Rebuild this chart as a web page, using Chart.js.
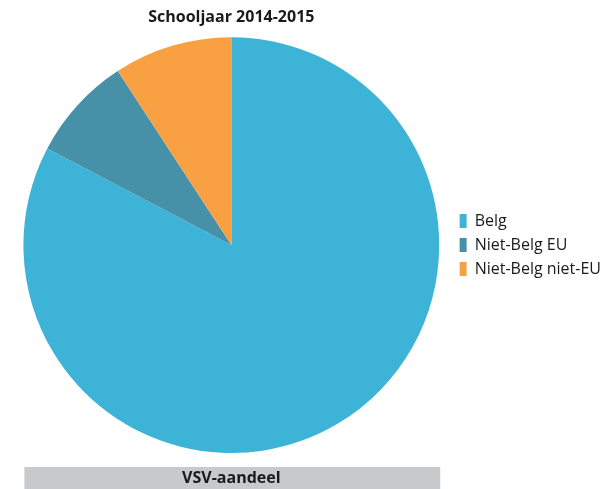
<!DOCTYPE html>
<html>
<head>
<meta charset="utf-8">
<script src="https://cdn.jsdelivr.net/npm/chart.js@4/dist/chart.umd.min.js"></script>
<style>
    html, body { margin: 0; padding: 0; background: #fff; }
    #wrap { width: 611px; height: 489px; }
</style>
</head>
<body>
<div id="wrap"><canvas id="chart" width="611" height="489"></canvas></div>
<script>
const categories = ['Belg', 'Niet-Belg EU', 'Niet-Belg niet-EU'];
const shares = [82.7, 8.1, 9.2];
const sliceColors = ['#3db3d7', '#4690a8', '#f8a042'];
const chartTitle = 'Schooljaar 2014-2015';
const footerText = 'VSV-aandeel';

const FONT = '"Open Sans", "Noto Sans", sans-serif';

// gray bar under the pie with the footer label
const footerBar = {
    id: 'footerBar',
    afterDraw(chart) {
        const arc = chart.getDatasetMeta(0).data[0];
        if (!arc) return;
        const ctx = chart.ctx;
        const left = arc.x - arc.outerRadius;
        const right = arc.x + arc.outerRadius;
        const top = chart.height - 22;
        ctx.save();
        ctx.fillStyle = '#c8c9cb';
        ctx.fillRect(left + 1, top, right - left, 22);
        ctx.fillStyle = '#1a1a1a';
        ctx.font = 'bold 16px ' + FONT;
        ctx.textAlign = 'center';
        ctx.textBaseline = 'middle';
        ctx.fillText(footerText, arc.x, top + 11);
        ctx.restore();
    }
};

new Chart(document.getElementById('chart'), {
    type: 'pie',
    data: {
        labels: categories,
        datasets: [{
            data: shares,
            backgroundColor: sliceColors,
            borderWidth: 0
        }]
    },
    options: {
        responsive: false,
        animation: false,
        layout: { padding: { left: 11, bottom: 36 } },
        plugins: {
            title: {
                display: true,
                text: chartTitle,
                fullSize: false,
                color: '#1a1a1a',
                font: { family: FONT, size: 16, weight: 'bold' },
                padding: { top: 8, bottom: 10 }
            },
            legend: {
                position: 'right',
                fullSize: false,
                labels: {
                    boxWidth: 7,
                    boxHeight: 14,
                    padding: 8,
                    color: '#1a1a1a',
                    font: { family: FONT, size: 16 }
                }
            },
            tooltip: { enabled: false }
        }
    },
    plugins: [footerBar]
});
</script>
</body>
</html>
